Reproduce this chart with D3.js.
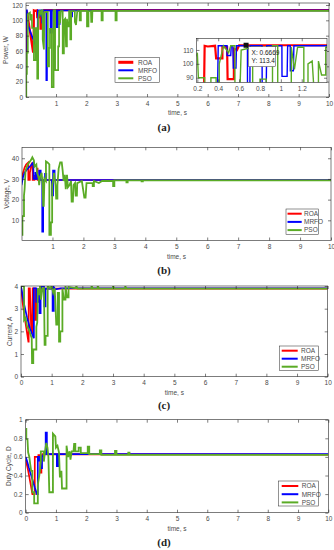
<!DOCTYPE html>
<html>
<head>
<meta charset="utf-8">
<script src="https://cdn.jsdelivr.net/npm/d3@7"></script>
<style>
body { margin: 0; background: #fff; }
svg { display: block; font-family: "Liberation Sans", Arial, sans-serif; }
.tick text { font-size: 6.5px; fill: #4a4a4a; font-family: "Liberation Sans", Arial, sans-serif; }
.tick line { stroke: #262626; stroke-width: 0.6; }
.lbl { font-size: 6.5px; fill: #4a4a4a; }
.cap { font-family: "Liberation Serif", "Times New Roman", serif; font-weight: bold; font-size: 11px; fill: #222; }
</style>
</head>
<body>
<svg id="chart" width="334" height="550"></svg>
<script>
// series order: ROA, MRFO, PSO
const seriesNames = ['ROA', 'MRFO', 'PSO'];
const seriesColors = ['#ff0000', '#0000ff', '#5aab25'];

const timeTicksNoZero = [1, 2, 3, 4, 5, 6, 7, 8, 9, 10];
const timeTicks = [0, 1, 2, 3, 4, 5, 6, 7, 8, 9, 10];
const powerTicks = [0, 20, 40, 60, 80, 100, 120];
const voltageTicks = [10, 20, 30, 40];
const currentTicks = [0, 1, 2, 3, 4];
const dutyTicks = [0, 0.2, 0.4, 0.6, 0.8, 1];
const insetXTicks = [0.2, 0.4, 0.6, 0.8, 1, 1.2];
const insetYTicks = [90, 100, 110];
const dataTip = [0.6669, 113.4];

// power, W  [time s, value]
const powerROA = [[0,48],[0.02,113],[0.05,110],[0.24,59],[0.26,59],[0.27,113],[0.3,112.5],[0.37,113],[0.38,104],[0.44,104],[0.44,112],[0.485,112],[0.49,89],[0.55,89],[0.55,111],[0.58,110],[0.6,113.4],[10,113.4]];
const powerMRFO = [[0,48],[0.01,113],[0.04,113],[0.06,95],[0.2,80],[0.38,63],[0.39,63],[0.4,113],[0.485,113],[0.485,106],[0.52,106],[0.525,113],[0.54,113],[0.545,97],[0.57,97],[0.575,113],[0.68,113],[0.681,22],[0.7,22],[0.705,113],[0.82,113],[0.821,84],[0.86,84],[0.865,113],[1.01,113],[1.011,91],[1.06,91],[1.065,113],[1.09,113],[1.091,95],[1.12,95],[1.125,113],[1.5,113],[1.501,105],[1.53,105],[1.535,113],[10,113]];
const powerPSO = [[0,0],[0.02,0],[0.02,30],[0.04,30],[0.04,58],[0.07,58],[0.07,108],[0.14,110],[0.15,100],[0.2,108],[0.21,90],[0.27,90],[0.27,48],[0.33,48],[0.33,90],[0.38,90],[0.38,24],[0.41,24],[0.41,100],[0.45,113],[0.5,108],[0.52,113],[0.56,113],[0.56,75],[0.6,62],[0.62,110],[0.68,111],[0.73,111],[0.73,40],[0.77,40],[0.77,64],[0.8,64],[0.8,89],[0.86,89],[0.86,13],[0.92,13],[0.92,113],[0.97,113],[0.97,35],[1.07,35],[1.07,66],[1.1,66],[1.1,112],[1.13,96],[1.16,112],[1.22,112],[1.22,57],[1.26,57],[1.26,100],[1.3,102],[1.33,66],[1.36,66],[1.36,102],[1.39,92],[1.43,92],[1.43,112],[1.47,112],[1.47,75],[1.5,75],[1.5,112],[1.62,112],[1.62,98],[1.66,94],[1.7,112],[1.78,112],[1.78,100],[1.82,100],[1.82,112.3],[2.02,112.3],[2.02,92],[2.07,92],[2.07,112],[2.15,112.3],[2.16,98],[2.19,98],[2.2,112.3],[2.5,112.3],[2.5,100],[2.54,100],[2.54,112.3],[2.96,112.3],[2.96,100],[3.0,100],[3.0,112.3],[10,112.3]];

// voltage, V
const voltageROA = [[0,30],[0.05,33],[0.1,35.5],[0.15,37],[0.22,38],[0.22,29.5],[0.27,29.5],[0.27,33],[0.33,37.5],[0.36,37.5],[0.36,29.5],[0.42,29.5],[0.42,31.5],[0.47,31.5],[0.47,29.5],[0.5,35],[0.52,35],[0.52,29.5],[10,29.5]];
const voltageMRFO = [[0,27],[0.05,31],[0.1,33],[0.2,35],[0.3,36.5],[0.38,38],[0.39,30],[0.45,30],[0.45,33],[0.49,33],[0.49,30],[0.57,30],[0.57,34],[0.62,34],[0.62,29.5],[0.67,29.5],[0.67,4.5],[0.7,4.5],[0.7,29.5],[0.76,29.5],[0.76,32.5],[0.8,32.5],[0.8,29.5],[0.98,29.5],[0.98,22],[1.02,22],[1.02,34],[1.07,34],[1.07,29.5],[10,29.5]];
const voltagePSO = [[0,3],[0.03,3],[0.03,12],[0.08,12],[0.08,22],[0.1,25],[0.13,34],[0.2,37],[0.3,39],[0.35,40.5],[0.4,39],[0.42,36],[0.48,37],[0.5,33],[0.55,31],[0.57,27],[0.6,31],[0.65,33],[0.68,28],[0.7,17],[0.72,17],[0.74,30],[0.79,29],[0.79,38.5],[0.84,38],[0.9,37],[0.9,3],[0.95,3],[0.95,9],[0.99,9],[0.99,27],[1.03,30],[1.05,33],[1.1,27],[1.12,20.5],[1.16,20.5],[1.16,27],[1.2,35],[1.25,38],[1.3,38],[1.33,34],[1.36,29],[1.4,32],[1.43,25],[1.47,32],[1.5,26],[1.55,27],[1.6,29],[1.62,19],[1.66,19],[1.68,27],[1.73,28],[1.75,22],[1.79,22],[1.8,28],[1.95,29],[2.03,21],[2.07,21],[2.1,28],[2.3,28],[2.3,26.5],[2.34,26.5],[2.34,29],[2.5,28],[2.6,29],[2.96,29],[2.96,26.5],[3.0,26.5],[3.0,29.3],[3.39,29.3],[3.39,28.3],[3.43,28.3],[3.43,29.3],[3.88,29.3],[3.88,28.8],[3.92,28.8],[3.92,29.3],[10,29.3]];

// current, A
const currentROA = [[0,4],[0.05,3.3],[0.1,2.8],[0.2,1.9],[0.24,1.55],[0.25,1.55],[0.25,3.9],[0.29,3.9],[0.33,2.2],[0.37,1.9],[0.38,3.9],[0.46,3.9],[0.46,2.5],[0.5,2.5],[0.5,3.85],[0.55,3.7],[0.6,3.88],[10,3.88]];
const currentMRFO = [[0,4],[0.05,3.6],[0.1,3.2],[0.2,2.6],[0.3,2.1],[0.4,1.75],[0.42,1.7],[0.42,3.9],[0.5,3.9],[0.5,3.3],[0.55,3.3],[0.55,3.85],[0.6,3.85],[0.6,2.8],[0.64,2.8],[0.64,3.9],[0.7,4.0],[0.75,4.0],[0.76,3.1],[0.8,3.1],[0.8,3.88],[1.03,3.88],[1.03,2.9],[1.07,2.9],[1.07,3.95],[1.12,3.85],[1.3,3.9],[10,3.9]];
const currentPSO = [[0,4],[0.1,4],[0.1,2.5],[0.15,2.6],[0.2,2.2],[0.25,2.1],[0.3,1.9],[0.35,1.7],[0.36,0.6],[0.4,0.6],[0.4,1.2],[0.5,1.2],[0.5,2.2],[0.53,2.4],[0.55,3.9],[0.6,3.6],[0.62,4],[0.65,3.4],[0.7,3.9],[0.75,3.9],[0.77,1.4],[0.8,1.4],[0.8,1.8],[0.87,1.8],[0.87,4],[0.95,3.9],[1.0,4],[1.05,3.7],[1.1,3.9],[1.15,2.3],[1.2,2.3],[1.2,3.7],[1.24,3.7],[1.24,1.55],[1.28,1.55],[1.28,2.0],[1.35,2.0],[1.35,3.9],[1.4,3.4],[1.45,3.4],[1.45,4],[1.5,3.5],[1.55,3.5],[1.55,3.95],[1.8,3.9],[1.8,4.0],[1.85,3.88],[2.3,3.88],[2.3,4.0],[2.35,3.88],[2.5,3.88],[2.5,4.0],[2.55,3.88],[3.0,3.88],[3.0,4.0],[3.05,3.88],[3.4,3.88],[3.4,3.98],[3.45,3.88],[10,3.88]];

// duty cycle, D
const dutyROA = [[0,0.57],[0.05,0.5],[0.1,0.42],[0.15,0.33],[0.2,0.24],[0.22,0.2],[0.3,0.2],[0.3,0.6],[0.42,0.6],[0.42,0.62],[0.48,0.62],[0.48,0.43],[0.52,0.43],[0.52,0.6],[0.55,0.63],[10,0.625]];
const dutyMRFO = [[0,0.6],[0.05,0.55],[0.1,0.49],[0.2,0.38],[0.3,0.27],[0.37,0.2],[0.4,0.2],[0.4,0.6],[0.45,0.6],[0.45,0.56],[0.5,0.56],[0.5,0.48],[0.54,0.48],[0.54,0.6],[0.6,0.63],[0.66,0.63],[0.66,0.86],[0.7,0.86],[0.7,0.63],[1.03,0.63],[1.03,0.5],[1.08,0.5],[1.08,0.63],[10,0.63]];
const dutyPSO = [[0,0.9],[0.02,0.9],[0.02,0.8],[0.06,0.78],[0.08,0.65],[0.12,0.6],[0.15,0.52],[0.18,0.45],[0.22,0.45],[0.22,0.22],[0.28,0.22],[0.28,0.1],[0.4,0.1],[0.4,0.3],[0.45,0.4],[0.5,0.55],[0.5,0.66],[0.6,0.66],[0.6,0.55],[0.64,0.66],[0.68,0.75],[0.72,0.7],[0.75,0.6],[0.78,0.22],[0.9,0.22],[0.9,0.85],[0.98,0.82],[1.0,0.7],[1.05,0.72],[1.1,0.65],[1.13,0.38],[1.18,0.45],[1.2,0.26],[1.35,0.26],[1.35,0.72],[1.4,0.6],[1.45,0.66],[1.48,0.57],[1.52,0.66],[1.58,0.66],[1.6,0.74],[1.64,0.74],[1.64,0.66],[1.75,0.66],[1.75,0.7],[1.82,0.7],[1.82,0.64],[2.05,0.64],[2.05,0.71],[2.1,0.71],[2.1,0.63],[2.45,0.63],[2.45,0.67],[2.5,0.67],[2.5,0.622],[2.95,0.622],[2.95,0.665],[3.0,0.665],[3.0,0.622],[3.39,0.622],[3.39,0.645],[3.43,0.645],[3.43,0.622],[10,0.622]];

const svg = d3.select('#chart');
const fmt = d => String(d);

function drawFrame(g, x, y, xTicks, yTicks, padX, padY) {
    const [x0, x1] = x.range();
    const [y0, y1] = y.range();
    g.append('g').attr('transform', `translate(0,${y0})`)
        .call(d3.axisBottom(x).tickValues(xTicks).tickSize(-3).tickPadding(padX).tickFormat(fmt));
    g.append('g').attr('transform', `translate(0,${y1})`)
        .call(d3.axisTop(x).tickValues(xTicks).tickSize(-3).tickFormat(''));
    g.append('g').attr('transform', `translate(${x0},0)`)
        .call(d3.axisLeft(y).tickValues(yTicks).tickSize(-3).tickPadding(padY).tickFormat(fmt));
    g.append('g').attr('transform', `translate(${x1},0)`)
        .call(d3.axisRight(y).tickValues(yTicks).tickSize(-3).tickFormat(''));
    g.selectAll('.domain').remove();
    g.append('rect')
        .attr('x', x0).attr('y', y1)
        .attr('width', x1 - x0).attr('height', y0 - y1)
        .attr('fill', 'none').attr('stroke', '#262626').attr('stroke-width', 0.6);
}

function drawLines(g, x, y, series, clipId, widths) {
    const line = d3.line().x(d => x(d[0])).y(d => y(d[1]));
    g.append('g').attr('clip-path', `url(#${clipId})`)
        .selectAll('path')
        .data(series)
        .join('path')
        .attr('d', line)
        .attr('fill', 'none')
        .attr('stroke', (d, i) => seriesColors[i])
        .attr('stroke-width', (d, i) => widths[i])
        .attr('stroke-linejoin', 'miter');
}

function addClip(id, x, y) {
    const [x0, x1] = x.range();
    const [y0, y1] = y.range();
    svg.append('clipPath').attr('id', id).append('rect')
        .attr('x', x0).attr('y', y1).attr('width', x1 - x0).attr('height', y0 - y1);
}

function drawLegend(g, lg) {
    g.append('rect')
        .attr('x', lg.x).attr('y', lg.y).attr('width', lg.w).attr('height', lg.h)
        .attr('fill', '#fff').attr('stroke', '#262626').attr('stroke-width', 0.5);
    seriesNames.forEach((name, i) => {
        const cy = lg.y + lg.row0 + i * lg.step;
        g.append('line')
            .attr('x1', lg.x + lg.l0).attr('x2', lg.x + lg.l1)
            .attr('y1', cy).attr('y2', cy)
            .attr('stroke', seriesColors[i]).attr('stroke-width', lg.lw[i]);
        g.append('text').attr('class', 'lbl')
            .attr('x', lg.x + lg.tx).attr('y', cy + 2.3)
            .text(name);
    });
}

const panels = [
    { id: 'a', left: 26, right: 329, top: 3, bottom: 97, xDomain: [0.01, 10], yDomain: [0, 122.6],
      xTicks: timeTicksNoZero, yTicks: powerTicks, yLabel: 'Power, W', yLabelX: 6,
      series: [powerROA, powerMRFO, powerPSO], widths: [2.2, 1.7, 1.7],
      xLabelY: 115, caption: '(a)', captionY: 131,
      legend: { x: 115, y: 57.3, w: 44.3, h: 25.4, row0: 5, step: 8, l0: 3.3, l1: 18.3, tx: 23, lw: [3, 2, 2] } },
    { id: 'b', left: 22, right: 331, top: 147.3, bottom: 240.5, xDomain: [0.016, 10], yDomain: [0.24, 45.3],
      xTicks: timeTicksNoZero, yTicks: voltageTicks, yLabel: 'Voltage, V', yLabelX: 7,
      series: [voltageROA, voltageMRFO, voltagePSO], widths: [1.7, 1.7, 1.8],
      xLabelY: 259, caption: '(b)', captionY: 274,
      legend: { x: 286, y: 209, w: 32.3, h: 25.3, row0: 4.7, step: 8.2, l0: 1.5, l1: 15.7, tx: 18, lw: [2, 2, 2] } },
    { id: 'c', left: 21, right: 327.7, top: 286, bottom: 376.7, xDomain: [0, 10], yDomain: [0, 4],
      xTicks: timeTicks, yTicks: currentTicks, yLabel: 'Current, A', yLabelX: 9.5,
      series: [currentROA, currentMRFO, currentPSO], widths: [1.7, 1.7, 1.8],
      xLabelY: 395, caption: '(c)', captionY: 409,
      legend: { x: 279.3, y: 346, w: 39, h: 24.7, row0: 4.7, step: 8, l0: 2.4, l1: 18.4, tx: 21.7, lw: [2, 2, 2] } },
    { id: 'd', left: 25.7, right: 328.3, top: 419.7, bottom: 512.7, xDomain: [0, 10], yDomain: [0, 1],
      xTicks: timeTicks, yTicks: dutyTicks, yLabel: 'Duty Cycle, D', yLabelX: 8.5,
      series: [dutyROA, dutyMRFO, dutyPSO], widths: [1.7, 1.7, 1.8],
      xLabelY: 531, caption: '(d)', captionY: 545.5,
      legend: { x: 278.3, y: 481, w: 40, h: 25, row0: 5, step: 8.2, l0: 3.4, l1: 20, tx: 23.4, lw: [2, 2, 2] } }
];

panels.forEach(p => {
    const g = svg.append('g').attr('id', 'panel-' + p.id);
    const x = d3.scaleLinear().domain(p.xDomain).range([p.left, p.right]);
    const y = d3.scaleLinear().domain(p.yDomain).range([p.bottom, p.top]);
    addClip('clip-' + p.id, x, y);

    drawLines(g, x, y, p.series, 'clip-' + p.id, p.widths);
    drawFrame(g, x, y, p.xTicks, p.yTicks, 4, 3);

    g.append('text').attr('class', 'lbl')
        .attr('text-anchor', 'middle')
        .attr('x', (p.left + p.right) / 2).attr('y', p.xLabelY)
        .text('time, s');
    g.append('text').attr('class', 'lbl')
        .attr('text-anchor', 'middle')
        .attr('transform', `translate(${p.yLabelX + 2.3},${(p.top + p.bottom) / 2}) rotate(-90)`)
        .text(p.yLabel);
    g.append('text').attr('class', 'cap')
        .attr('text-anchor', 'middle')
        .attr('x', 164).attr('y', p.captionY)
        .text(p.caption);

    drawLegend(g, p.legend);

    if (p.id === 'a') {
        // zoomed inset with data tip
        const ix = d3.scaleLinear().domain([0.192, 1.442]).range([196.5, 327]);
        const iy = d3.scaleLinear().domain([86.7, 118.4]).range([82.3, 38.3]);
        g.append('rect').attr('x', 196.5).attr('y', 38.3).attr('width', 130.5).attr('height', 44)
            .attr('fill', '#fff');
        addClip('clip-inset', ix, iy);
        drawLines(g, ix, iy, p.series, 'clip-inset', [2.2, 1.4, 1.4]);
        drawFrame(g, ix, iy, insetXTicks, insetYTicks, 4.5, 3);

        const mx = ix(dataTip[0]), my = iy(dataTip[1]);
        g.append('rect').attr('x', mx - 2.5).attr('y', my - 2.5).attr('width', 5).attr('height', 5)
            .attr('fill', '#111');
        const tip = g.append('g').attr('transform', `translate(${mx + 2.5},${my + 1.5})`);
        tip.append('rect').attr('width', 27).attr('height', 20)
            .attr('fill', '#fdfdfd').attr('stroke', '#333').attr('stroke-width', 0.5);
        tip.append('text').attr('class', 'lbl').attr('x', 3).attr('y', 8.5).style('fill', '#222')
            .text('X: ' + dataTip[0]);
        tip.append('text').attr('class', 'lbl').attr('x', 3).attr('y', 16.5).style('fill', '#222')
            .text('Y: ' + dataTip[1]);
    }
});
</script>
</body>
</html>
